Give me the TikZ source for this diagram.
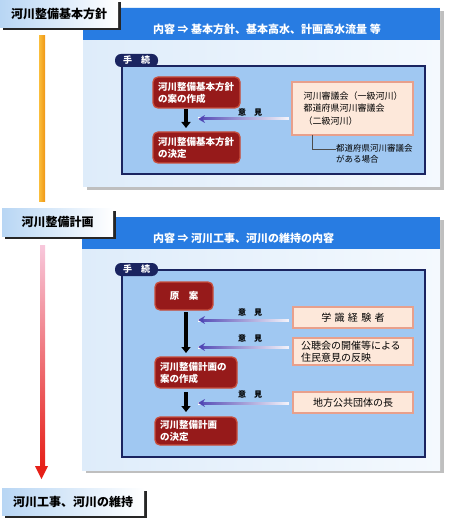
\documentclass[tikz,border=0pt]{standalone}
\usepackage{fontspec}
\setmainfont{Noto Sans CJK JP}
\usetikzlibrary{shadows,fadings,arrows.meta,calc}
\definecolor{hdrblue}{RGB}{40,124,226}
\definecolor{panelL}{RGB}{222,236,250}
\definecolor{panelR}{RGB}{244,249,254}
\definecolor{procfill}{RGB}{160,200,242}
\definecolor{navy}{RGB}{26,36,96}
\definecolor{redfill}{RGB}{150,26,26}
\definecolor{redrim}{RGB}{200,78,60}
\definecolor{srcfill}{RGB}{253,232,218}
\definecolor{srcrim}{RGB}{232,160,140}
\definecolor{lblblue}{RGB}{184,214,244}
\definecolor{opcol}{RGB}{80,70,180}
\definecolor{orngA}{RGB}{250,190,60}
\definecolor{orngB}{RGB}{240,150,20}
\definecolor{pinkA}{RGB}{248,200,220}
\definecolor{redB}{RGB}{230,32,24}
\tikzfading[name=opfade, left color=transparent!0, right color=transparent!100]
\begin{document}
\begin{tikzpicture}[x=1pt,y=-1pt,
 box/.style={anchor=north west, inner sep=0pt, outer sep=0pt},
 lbl/.style={box, left color=lblblue, right color=white, general shadow={fill=black!85, shadow xshift=2.5pt, shadow yshift=-2.5pt}, font=\fontsize{12}{14}\selectfont\bfseries},
 panel/.style={box, left color=panelL, right color=panelR, general shadow={fill=black!25, shadow xshift=4pt, shadow yshift=-3pt}},
 hdr/.style={box, fill=hdrblue},
 hdrtxt/.style={anchor=west, inner sep=0pt, text=white, font=\fontsize{11}{13}\selectfont\bfseries},
 proc/.style={box, fill=procfill, draw=navy, line width=1.2pt},
 tabbox/.style={box, fill=navy, rounded corners=6pt, text=white, font=\fontsize{9}{10}\selectfont\bfseries},
 redbox/.style={box, fill=redfill, draw=redrim, line width=1.3pt, rounded corners=5pt, text=white, font=\fontsize{9.5}{12}\selectfont\bfseries, align=left, inner xsep=5pt},
 srcbox/.style={box, fill=srcfill, draw=srcrim, line width=1.3pt, font=\fontsize{9.5}{12}\selectfont, align=left},
 downarr/.style={line width=3.5pt, -{Triangle[width=9pt,length=6pt]}},
 opbase/.style={line width=3pt, white},
 opin/.style={line width=3pt, opcol, path fading=opfade, -{Stealth[width=8pt,length=7pt]}},
 oplbl/.style={font=\fontsize{8}{9}\selectfont\bfseries, inner sep=0pt},
 note/.style={anchor=west, inner sep=0pt, font=\fontsize{8.5}{11}\selectfont, align=left}
]
\useasboundingbox (0,0) rectangle (450,529);
% timeline
\shade[left color=orngA, right color=orngB] (39,36) rectangle (45,202);
\shade[top color=pinkA, bottom color=redB] (40,245) rectangle (45,468);
\fill[redB] (35,466) -- (48,466) -- (41.5,479) -- cycle;

% ===== panel 1
\node[panel, minimum width=357pt, minimum height=179pt] (p1) at (83,8) {};
\node[hdr, minimum width=357pt, minimum height=32pt] (h1) at (83,8) {};
\node[hdrtxt] (h1t) at (153,29) {内容 ⇒ 基本方針、基本高水、計画高水流量 等};
\node[proc, minimum width=303pt, minimum height=108pt] (q1) at (122,66) {};
\node[tabbox, minimum width=43pt, minimum height=13pt] (t1) at (115,54) {手　続};
\node[redbox, text width=77pt, minimum height=31pt] (a1) at (153,77) {河川整備基本方針\\の案の作成};
\node[redbox, text width=77pt, minimum height=31pt] (a2) at (153,132) {河川整備基本方針\\の決定};
\node[srcbox, text width=98pt, inner xsep=11.5pt, minimum height=53pt, font=\fontsize{9}{12.5}\selectfont] (s1) at (292,82) {河川審議会（一級河川）\\都道府県河川審議会\\（二級河川）};
\node[note] (n1) at (336,154) {都道府県河川審議会\\がある場合};
\draw[black!70, line width=0.6pt] ([xshift=20pt]s1.south west) |- ([yshift=5pt]n1.west);
\draw[downarr, shorten <=1pt, shorten >=4pt] ([xshift=-10.5pt]a1.south) -- ([xshift=-10.5pt]a2.north);
\coordinate (o1) at (198,119);
\draw[opbase, shorten <=3pt] (s1.west |- o1) -- (o1);
\draw[opin, shorten <=3pt] (s1.west |- o1) -- (o1);
\node[oplbl] (m1) at (250,112) {意　見};

% ===== panel 2
\node[panel, minimum width=358pt, minimum height=253pt] (p2) at (82,217) {};
\node[hdr, minimum width=358pt, minimum height=32pt] (h2) at (82,217) {};
\node[hdrtxt] (h2t) at (153,238) {内容 ⇒ 河川工事、河川の維持の内容};
\node[proc, minimum width=303pt, minimum height=187pt] (q2) at (122,270) {};
\node[tabbox, minimum width=43pt, minimum height=13pt] (t2) at (115,263) {手　続};
\node[redbox, text width=48pt, align=center, minimum height=28pt] (b1) at (155,282) {原　案};
\node[redbox, text width=72pt, minimum height=31pt] (b2) at (155,357) {河川整備計画の\\案の作成};
\node[redbox, text width=72pt, minimum height=28pt] (b3) at (155,417) {河川整備計画\\の決定};
\node[srcbox, text width=120pt, align=center, minimum height=21pt, font=\fontsize{10}{12}\selectfont] (c1) at (293,307) {学 識 経 験 者};
\node[srcbox, text width=104pt, inner xsep=8pt, minimum height=27pt, font=\fontsize{10}{12}\selectfont] (c2) at (293,338) {公聴会の開催等による\\住民意見の反映};
\node[srcbox, text width=120pt, align=center, minimum height=21pt, font=\fontsize{10}{12}\selectfont] (c3) at (293,392) {地方公共団体の長};
\draw[downarr, shorten <=2pt, shorten >=4pt] ([xshift=2pt]b1.south) -- ([xshift=2pt]b1.south |- b2.north);
\draw[downarr, shorten <=4pt, shorten >=5pt] ([xshift=-10pt]b2.south) -- ([xshift=-10pt]b3.north);
\coordinate (o2) at (198,320);
\coordinate (o3) at (198,347);
\coordinate (o4) at (198,403);
\draw[opbase, shorten <=4pt] (c1.west |- o2) -- (o2);
\draw[opin, shorten <=4pt] (c1.west |- o2) -- (o2);
\draw[opbase, shorten <=4pt] (c2.west |- o3) -- (o3);
\draw[opin, shorten <=4pt] (c2.west |- o3) -- (o3);
\draw[opbase, shorten <=4pt] (c3.west |- o4) -- (o4);
\draw[opin, shorten <=4pt] (c3.west |- o4) -- (o4);
\node[oplbl] (m2) at (250,312) {意　見};
\node[oplbl] (m3) at (250,338) {意　見};
\node[oplbl] (m4) at (250,394) {意　見};

% ===== labels
\node[lbl, minimum width=118pt, minimum height=28pt] (lab1) at (0,0) {河川整備基本方針};
\node[lbl, minimum width=111pt, minimum height=28pt] (lab2) at (2,208) {河川整備計画};
\node[lbl, minimum width=142pt, minimum height=27pt] (lab3) at (2,488) {河川工事、河川の維持};
\end{tikzpicture}
\end{document}
